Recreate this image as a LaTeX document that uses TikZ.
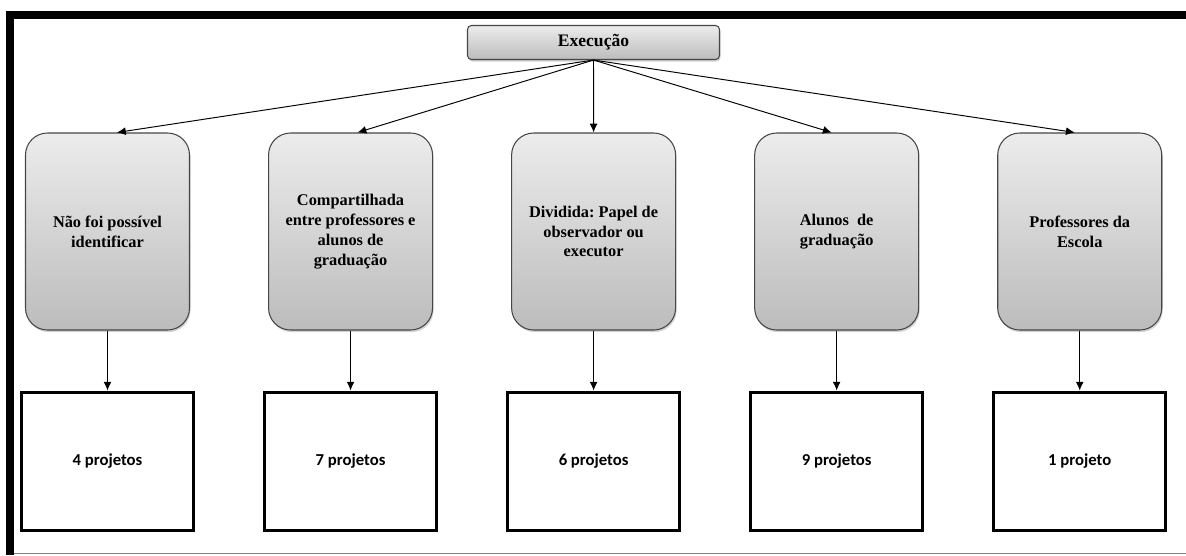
\documentclass[tikz,border=0pt]{standalone}
\usepackage{fontspec}
\setmainfont{Liberation Serif}
\newfontfamily\calibrifont{Carlito}
\usepackage{tikz}
\usetikzlibrary{shapes,arrows.meta,positioning,shadows}
\definecolor{boxtop}{RGB}{236,236,236}
\definecolor{boxbottom}{RGB}{188,188,188}
\definecolor{boxedge}{RGB}{70,70,70}
\frenchspacing

\begin{document}
\begin{tikzpicture}[
    roundbox/.style={draw=boxedge, line width=0.6pt, rounded corners=0.44cm,
        top color=boxtop, bottom color=boxbottom,
        minimum width=3.28cm, minimum height=3.94cm, align=center,
        font=\fontsize{9.3}{11.3}\selectfont\bfseries,
        drop shadow={shadow xshift=0.6pt, shadow yshift=-1.2pt, opacity=0.35}},
    countbox/.style={draw, line width=1.7pt, minimum width=3.44cm, minimum height=2.76cm,
        font=\calibrifont\fontsize{9.5}{11}\selectfont\bfseries},
    link/.style={-{Latex[length=5pt,width=4.5pt]}, line width=0.55pt}
]
    \useasboundingbox (0,0) rectangle (23.72,-11.1);
    % frame
    \draw[line width=0.16cm] (23.72,-0.3) -| (0.19,-11.1);
    \draw[gray, line width=0.6pt] (0.27,-11.07) -- (23.72,-11.07);

    % top
    \node[draw=boxedge, line width=0.6pt, rounded corners=0.08cm, top color=boxtop, bottom color=boxbottom,
        minimum width=5.04cm, minimum height=0.68cm, font=\fontsize{10}{11}\selectfont\bfseries,
        drop shadow={shadow xshift=0.6pt, shadow yshift=-1.2pt, opacity=0.35}]
        (exec) at (11.87,-0.85) {Execução};

    % categories
    \node[roundbox] (naoid) at (2.15,-4.63) {Não foi possível\\identificar};
    \node[roundbox, right=1.56cm of naoid] (compart) {Compartilhada\\entre professores e\\alunos de\\graduação};
    \node[roundbox, right=1.56cm of compart] (divid) {Dividida: Papel de\\observador ou\\executor};
    \node[roundbox, right=1.56cm of divid] (alunos) {Alunos~ de\\graduação};
    \node[roundbox, right=1.56cm of alunos] (profs) {Professores da\\Escola};

    % counts
    \node[countbox, below=1.2cm of naoid] (n4) {4 projetos};
    \node[countbox, below=1.2cm of compart] (n7) {7 projetos};
    \node[countbox, below=1.2cm of divid] (n6) {6 projetos};
    \node[countbox, below=1.2cm of alunos] (n9) {9 projetos};
    \node[countbox, below=1.2cm of profs] (n1) {1 projeto};

    \draw[link] (exec.south) -- ([xshift=0.19cm]naoid.north);
    \draw[link] (exec.south) -- ([xshift=0.14cm]compart.north);
    \draw[link] (exec.south) -- (divid.north);
    \draw[link] (exec.south) -- ([xshift=-0.1cm]alunos.north);
    \draw[link] (exec.south) -- ([xshift=-0.1cm]profs.north);

    \draw[link] (naoid) -- (n4);
    \draw[link] (compart) -- (n7);
    \draw[link] (divid) -- (n6);
    \draw[link] (alunos) -- (n9);
    \draw[link] (profs) -- (n1);
\end{tikzpicture}
\end{document}
